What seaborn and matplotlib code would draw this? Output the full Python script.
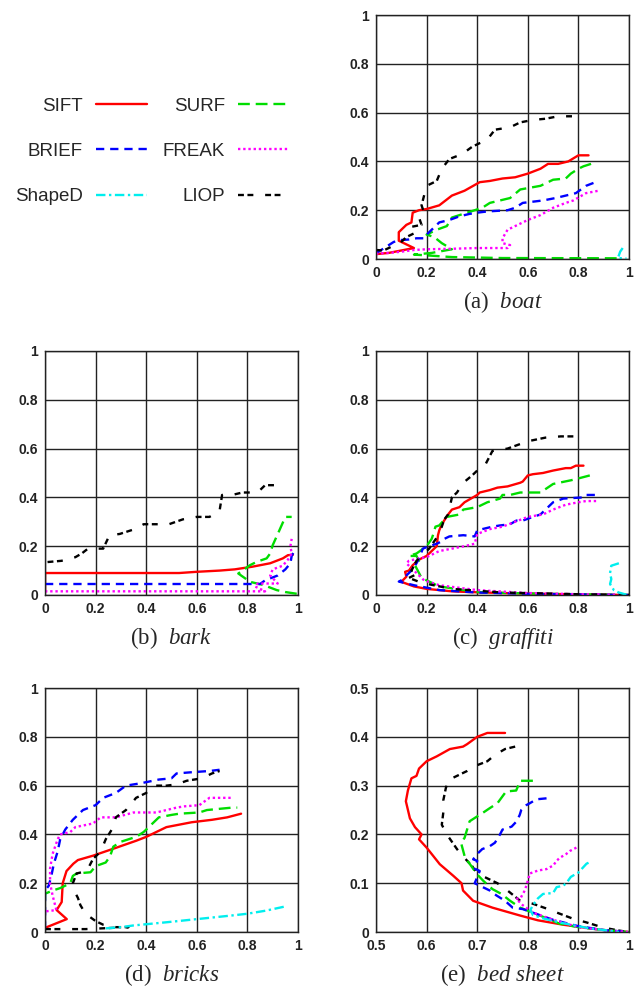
"""Precision/recall style curves for six descriptors on five image sets."""

import matplotlib.pyplot as plt
from matplotlib.lines import Line2D
import pandas as pd
import seaborn as sns

# descriptors, in the order used by the legend (column by column)
DESCRIPTORS = ["SIFT", "BRIEF", "ShapeD", "SURF", "FREAK", "LIOP"]

# (x values, y values)
boat = {
    "SIFT": ([0.0, 0.05, 0.1, 0.15, 0.13, 0.09, 0.09, 0.12, 0.14, 0.145, 0.17, 0.2, 0.25, 0.3, 0.35,
              0.41, 0.45, 0.5, 0.55, 0.6, 0.65, 0.68, 0.72, 0.76, 0.8, 0.84],
             [0.02, 0.025, 0.035, 0.045, 0.055, 0.075, 0.11, 0.14, 0.15, 0.19, 0.2, 0.205, 0.22, 0.26, 0.28,
              0.315, 0.32, 0.33, 0.335, 0.35, 0.37, 0.39, 0.39, 0.4, 0.425, 0.425]),
    "SURF": ([0.85, 0.82, 0.8, 0.77, 0.75, 0.7, 0.65, 0.57, 0.53, 0.45, 0.42, 0.36, 0.33, 0.3, 0.28, 0.24,
              0.2, 0.23, 0.26, 0.3, 0.22, 0.15, 0.2, 0.3, 0.5, 0.97],
             [0.39, 0.38, 0.37, 0.35, 0.33, 0.325, 0.3, 0.285, 0.25, 0.23, 0.21, 0.19, 0.18, 0.17, 0.135, 0.12,
              0.1, 0.09, 0.065, 0.04, 0.025, 0.018, 0.015, 0.008, 0.004, 0.003]),
    "BRIEF": ([0.0, 0.01, 0.04, 0.07, 0.1, 0.13, 0.16, 0.19, 0.2, 0.22, 0.25, 0.29, 0.33, 0.37, 0.4, 0.44,
               0.52, 0.55, 0.58, 0.62, 0.66, 0.71, 0.75, 0.79, 0.83, 0.88],
              [0.025, 0.03, 0.05, 0.07, 0.078, 0.08, 0.085, 0.085, 0.1, 0.12, 0.15, 0.16, 0.175, 0.185, 0.19,
               0.195, 0.2, 0.21, 0.23, 0.235, 0.24, 0.25, 0.26, 0.27, 0.3, 0.32]),
    "FREAK": ([0.0, 0.05, 0.1, 0.15, 0.2, 0.3, 0.4, 0.49, 0.52, 0.53, 0.5, 0.5, 0.52, 0.54, 0.6, 0.65, 0.7,
               0.75, 0.78, 0.83, 0.88],
              [0.022, 0.025, 0.03, 0.037, 0.04, 0.042, 0.045, 0.045, 0.045, 0.057, 0.065, 0.085, 0.12, 0.13,
               0.16, 0.18, 0.21, 0.23, 0.24, 0.27, 0.28]),
    "LIOP": ([0.0, 0.03, 0.06, 0.09, 0.12, 0.15, 0.13, 0.18, 0.17, 0.19, 0.18, 0.19, 0.2, 0.24, 0.26, 0.29,
              0.34, 0.38, 0.44, 0.47, 0.53, 0.57, 0.62, 0.67, 0.72, 0.78],
             [0.037, 0.035, 0.05, 0.06, 0.09, 0.105, 0.13, 0.14, 0.17, 0.19, 0.22, 0.26, 0.3, 0.32, 0.37, 0.41,
              0.43, 0.46, 0.49, 0.53, 0.54, 0.56, 0.57, 0.575, 0.585, 0.585]),
    "ShapeD": ([0.975, 0.965, 0.96, 0.955, 0.97, 0.99],
               [0.045, 0.03, 0.015, 0.005, 0.003, 0.002]),
}

bark = {
    "SIFT": ([0.0, 0.0, 0.2, 0.4, 0.53, 0.6, 0.69, 0.75, 0.82, 0.89, 0.94, 0.96, 0.98],
             [0.01, 0.09, 0.09, 0.09, 0.09, 0.095, 0.1, 0.105, 0.116, 0.13, 0.15, 0.163, 0.165]),
    "SURF": ([0.995, 0.95, 0.916, 0.863, 0.81, 0.79, 0.764, 0.784, 0.81, 0.837, 0.876, 0.89, 0.9, 0.92,
              0.935, 0.95, 0.975],
             [0.005, 0.012, 0.02, 0.041, 0.054, 0.069, 0.088, 0.102, 0.122, 0.136, 0.15, 0.17, 0.204, 0.25,
              0.285, 0.32, 0.32]),
    "BRIEF": ([0.0, 0.4, 0.85, 0.87, 0.92, 0.95, 0.97, 0.975, 0.985],
              [0.045, 0.045, 0.045, 0.06, 0.08, 0.105, 0.13, 0.16, 0.18]),
    "FREAK": ([0.0, 0.4, 0.87, 0.83, 0.84, 0.92, 0.89, 0.9, 0.94, 0.96, 0.975, 0.97, 0.975],
              [0.015, 0.015, 0.015, 0.035, 0.047, 0.047, 0.08, 0.105, 0.12, 0.145, 0.17, 0.2, 0.23]),
    "LIOP": ([0.01, 0.065, 0.12, 0.145, 0.17, 0.23, 0.255, 0.295, 0.355, 0.39, 0.45, 0.49, 0.545, 0.6,
              0.65, 0.69, 0.7, 0.74, 0.78, 0.84, 0.87, 0.92],
             [0.135, 0.14, 0.155, 0.17, 0.19, 0.19, 0.245, 0.25, 0.27, 0.29, 0.29, 0.29, 0.31, 0.32, 0.32,
              0.345, 0.41, 0.41, 0.42, 0.42, 0.45, 0.45]),
}

graffiti = {
    "SIFT": ([0.82, 0.79, 0.77, 0.75, 0.7, 0.66, 0.62, 0.6, 0.58, 0.57, 0.52, 0.48, 0.45, 0.41, 0.4, 0.35,
              0.33, 0.3, 0.285, 0.26, 0.25, 0.245, 0.24, 0.22, 0.2, 0.17, 0.145, 0.13, 0.115, 0.12, 0.1,
              0.15, 0.2, 0.3, 0.37, 0.5, 0.7, 0.85, 1.0],
             [0.53, 0.53, 0.52, 0.52, 0.51, 0.5, 0.495, 0.49, 0.465, 0.46, 0.445, 0.44, 0.43, 0.42, 0.41,
              0.38, 0.36, 0.35, 0.33, 0.29, 0.265, 0.245, 0.2, 0.18, 0.16, 0.145, 0.122, 0.1, 0.095, 0.075,
              0.054, 0.035, 0.025, 0.015, 0.012, 0.008, 0.004, 0.002, 0.0]),
    "SURF": ([0.845, 0.79, 0.77, 0.7, 0.65, 0.57, 0.53, 0.5, 0.49, 0.44, 0.4, 0.345, 0.33, 0.28, 0.25,
              0.235, 0.225, 0.22, 0.2, 0.16, 0.13, 0.16, 0.17, 0.155, 0.18, 0.25, 0.4, 0.6, 0.8, 1.0],
             [0.49, 0.475, 0.47, 0.455, 0.42, 0.42, 0.41, 0.41, 0.395, 0.38, 0.36, 0.35, 0.33, 0.32, 0.285,
              0.28, 0.245, 0.23, 0.2, 0.17, 0.16, 0.16, 0.14, 0.12, 0.07, 0.035, 0.012, 0.006, 0.003, 0.0]),
    "BRIEF": ([0.865, 0.83, 0.82, 0.74, 0.7, 0.67, 0.65, 0.62, 0.58, 0.555, 0.53, 0.49, 0.46, 0.4, 0.39,
               0.345, 0.29, 0.27, 0.26, 0.24, 0.21, 0.185, 0.17, 0.16, 0.14, 0.1, 0.09, 0.15, 0.25, 0.4,
               0.6, 0.8, 1.0],
              [0.41, 0.41, 0.4, 0.395, 0.38, 0.35, 0.33, 0.32, 0.305, 0.305, 0.29, 0.285, 0.28, 0.265, 0.24,
               0.245, 0.24, 0.23, 0.22, 0.21, 0.2, 0.19, 0.15, 0.13, 0.1, 0.06, 0.055, 0.04, 0.02, 0.01,
               0.005, 0.002, 0.0]),
    "FREAK": ([0.87, 0.83, 0.8, 0.75, 0.7, 0.66, 0.6, 0.55, 0.5, 0.45, 0.4, 0.39, 0.35, 0.3, 0.25, 0.2,
               0.17, 0.13, 0.12, 0.15, 0.19, 0.25, 0.4, 0.6, 0.8, 1.0],
              [0.385, 0.385, 0.38, 0.37, 0.35, 0.33, 0.32, 0.3, 0.28, 0.27, 0.25, 0.21, 0.2, 0.19, 0.18,
               0.155, 0.15, 0.14, 0.13, 0.1, 0.06, 0.04, 0.02, 0.008, 0.003, 0.0]),
    "LIOP": ([0.78, 0.73, 0.67, 0.6, 0.56, 0.52, 0.46, 0.43, 0.41, 0.38, 0.345, 0.32, 0.3, 0.285, 0.27,
              0.25, 0.23, 0.21, 0.19, 0.17, 0.16, 0.15, 0.14, 0.17, 0.13, 0.18, 0.3, 0.5, 0.8, 1.0],
             [0.65, 0.65, 0.645, 0.63, 0.615, 0.6, 0.59, 0.53, 0.52, 0.49, 0.46, 0.42, 0.4, 0.33, 0.31,
              0.25, 0.22, 0.19, 0.17, 0.15, 0.14, 0.12, 0.1, 0.09, 0.07, 0.05, 0.025, 0.01, 0.003, 0.0]),
    "ShapeD": ([0.96, 0.93, 0.925, 0.93, 0.925, 0.94, 0.96, 0.98, 1.0],
               [0.13, 0.12, 0.09, 0.065, 0.045, 0.02, 0.01, 0.004, 0.0]),
}

bricks = {
    "SIFT": ([0.007, 0.086, 0.046, 0.066, 0.07, 0.085, 0.112, 0.13, 0.19, 0.28, 0.36, 0.4, 0.48, 0.58,
              0.66, 0.72, 0.775],
             [0.02, 0.053, 0.09, 0.123, 0.2, 0.25, 0.28, 0.295, 0.313, 0.345, 0.374, 0.39, 0.43, 0.45, 0.46,
              0.47, 0.485]),
    "SURF": ([0.0, 0.0, 0.03, 0.06, 0.1, 0.11, 0.125, 0.18, 0.2, 0.24, 0.257, 0.27, 0.3, 0.36, 0.39, 0.45,
              0.5, 0.53, 0.61, 0.64, 0.74, 0.76],
             [0.13, 0.157, 0.17, 0.18, 0.2, 0.23, 0.24, 0.245, 0.27, 0.285, 0.31, 0.35, 0.37, 0.39, 0.41,
              0.47, 0.48, 0.485, 0.49, 0.5, 0.51, 0.51]),
    "BRIEF": ([0.0, 0.0, 0.015, 0.025, 0.035, 0.05, 0.06, 0.08, 0.11, 0.15, 0.2, 0.23, 0.28, 0.32, 0.38,
               0.45, 0.5, 0.52, 0.58, 0.65, 0.69],
              [0.01, 0.17, 0.19, 0.23, 0.28, 0.33, 0.38, 0.42, 0.46, 0.5, 0.52, 0.55, 0.57, 0.6, 0.61, 0.625,
               0.63, 0.65, 0.655, 0.66, 0.665]),
    "FREAK": ([0.005, 0.045, 0.03, 0.02, 0.02, 0.03, 0.05, 0.06, 0.1, 0.12, 0.19, 0.22, 0.28, 0.35, 0.44,
               0.48, 0.52, 0.55, 0.61, 0.65, 0.74],
              [0.085, 0.09, 0.15, 0.2, 0.26, 0.32, 0.38, 0.4, 0.41, 0.43, 0.445, 0.47, 0.47, 0.49, 0.49, 0.5,
               0.51, 0.515, 0.52, 0.55, 0.55]),
    "LIOP": ([0.0, 0.08, 0.16, 0.33, 0.28, 0.23, 0.2, 0.16, 0.14, 0.13, 0.115, 0.11, 0.125, 0.165, 0.19,
              0.22, 0.24, 0.27, 0.28, 0.32, 0.36, 0.4, 0.43, 0.48, 0.52, 0.56, 0.62, 0.66, 0.69],
             [0.012, 0.012, 0.012, 0.02, 0.02, 0.03, 0.045, 0.075, 0.11, 0.14, 0.17, 0.2, 0.24, 0.25, 0.3,
              0.33, 0.38, 0.43, 0.47, 0.5, 0.55, 0.57, 0.6, 0.6, 0.605, 0.62, 0.63, 0.65, 0.66]),
    "ShapeD": ([0.24, 0.3, 0.35, 0.48, 0.61, 0.74, 0.8, 0.875, 0.95],
               [0.015, 0.02, 0.027, 0.04, 0.054, 0.068, 0.075, 0.088, 0.105]),
}

bed_sheet = {
    "SIFT": ([0.755, 0.72, 0.7, 0.68, 0.672, 0.646, 0.62, 0.6, 0.585, 0.58, 0.57, 0.563, 0.559, 0.567,
              0.577, 0.59, 0.585, 0.6, 0.626, 0.653, 0.669, 0.672, 0.692, 0.73, 0.784, 0.82, 0.87, 0.92,
              0.96, 1.0],
             [0.408, 0.408, 0.4, 0.385, 0.38, 0.375, 0.36, 0.35, 0.335, 0.32, 0.315, 0.29, 0.268, 0.233,
              0.215, 0.2, 0.19, 0.173, 0.139, 0.115, 0.1, 0.085, 0.064, 0.05, 0.034, 0.024, 0.015, 0.008,
              0.003, 0.0]),
    "LIOP": ([0.775, 0.755, 0.735, 0.72, 0.695, 0.68, 0.65, 0.643, 0.638, 0.633, 0.633, 0.63, 0.64, 0.66,
              0.672, 0.69, 0.7, 0.72, 0.74, 0.76, 0.785, 0.81, 0.84, 0.857, 0.89, 0.915, 0.94, 0.955, 0.98,
              1.0],
             [0.38, 0.375, 0.363, 0.35, 0.34, 0.33, 0.315, 0.312, 0.295, 0.27, 0.245, 0.22, 0.2, 0.17,
              0.155, 0.135, 0.12, 0.11, 0.1, 0.085, 0.064, 0.058, 0.047, 0.04, 0.027, 0.02, 0.012, 0.008,
              0.003, 0.0]),
    "SURF": ([0.81, 0.785, 0.777, 0.757, 0.74, 0.725, 0.705, 0.7, 0.685, 0.68, 0.675, 0.668, 0.676, 0.685,
              0.7, 0.712, 0.73, 0.748, 0.765, 0.785, 0.84, 0.863, 0.9, 0.95, 1.0],
             [0.31, 0.31, 0.29, 0.288, 0.264, 0.254, 0.24, 0.237, 0.227, 0.21, 0.193, 0.183, 0.152, 0.14,
              0.118, 0.105, 0.088, 0.078, 0.064, 0.05, 0.027, 0.017, 0.01, 0.004, 0.0]),
    "BRIEF": ([0.837, 0.817, 0.804, 0.797, 0.787, 0.784, 0.778, 0.768, 0.75, 0.745, 0.735, 0.725, 0.71,
               0.7, 0.692, 0.7, 0.695, 0.705, 0.695, 0.725, 0.738, 0.755, 0.77, 0.79, 0.85, 0.9, 0.95, 1.0],
              [0.274, 0.272, 0.264, 0.26, 0.25, 0.24, 0.227, 0.216, 0.21, 0.2, 0.183, 0.176, 0.17, 0.16,
               0.149, 0.146, 0.13, 0.125, 0.1, 0.085, 0.075, 0.064, 0.05, 0.047, 0.025, 0.012, 0.004, 0.0]),
    "FREAK": ([0.896, 0.883, 0.876, 0.863, 0.857, 0.85, 0.844, 0.837, 0.82, 0.804, 0.8, 0.797, 0.794, 0.79,
               0.786, 0.777, 0.79, 0.81, 0.85, 0.9, 0.95, 1.0],
              [0.173, 0.166, 0.16, 0.152, 0.146, 0.136, 0.133, 0.129, 0.126, 0.12, 0.105, 0.095, 0.085,
               0.078, 0.07, 0.068, 0.055, 0.04, 0.025, 0.01, 0.004, 0.0]),
    "ShapeD": ([0.92, 0.916, 0.9, 0.885, 0.876, 0.87, 0.857, 0.85, 0.83, 0.82, 0.81, 0.805, 0.81, 0.83,
                0.87, 0.92, 0.96, 0.98],
               [0.142, 0.14, 0.122, 0.113, 0.1, 0.095, 0.092, 0.08, 0.078, 0.069, 0.055, 0.045, 0.035, 0.028,
                0.018, 0.008, 0.003, 0.0]),
}

# tick values and labels
TICKS_UNIT = [0, 0.2, 0.4, 0.6, 0.8, 1.0]
TICK_LABELS_UNIT = ["0", "0.2", "0.4", "0.6", "0.8", "1"]
TICKS_X_BED = [0.5, 0.6, 0.7, 0.8, 0.9, 1.0]
TICK_LABELS_X_BED = ["0.5", "0.6", "0.7", "0.8", "0.9", "1"]
TICKS_Y_BED = [0, 0.1, 0.2, 0.3, 0.4, 0.5]
TICK_LABELS_Y_BED = ["0", "0.1", "0.2", "0.3", "0.4", "0.5"]

# style of each descriptor
COLORS = {"SIFT": "#ff0000", "SURF": "#00dd00", "BRIEF": "#0000ff",
          "FREAK": "#ff00ff", "ShapeD": "#00eeee", "LIOP": "#000000"}
DASHES = {"SIFT": "", "SURF": (5, 2.5), "BRIEF": (3.5, 2.5), "FREAK": (1, 1.2),
          "ShapeD": (4, 1.5, 1, 1.5), "LIOP": (2.5, 1.5, 2.5, 5)}
LW = 1.7


def to_long(panel):
    """Turn a dict of (x, y) lists into a long table."""
    frames = []
    for name, (xs, ys) in panel.items():
        frames.append(pd.DataFrame({"x": xs, "y": ys, "desc": name}))
    return pd.concat(frames, ignore_index=True)


sns.set_style("white")
plt.rcParams["font.family"] = ["Liberation Sans", "DejaVu Sans"]
plt.rcParams["mathtext.fontset"] = "custom"
plt.rcParams["mathtext.it"] = "Liberation Serif:italic"
plt.rcParams["mathtext.rm"] = "Liberation Serif"

fig = plt.figure(figsize=(6.41, 9.89), dpi=100)

w, h = 0.3947, 0.2467
panels = [
    (boat, "a", "boat", [0.5866, 0.7381, w, h], "unit"),
    (bark, "b", "bark", [0.0702, 0.3984, w, h], "unit"),
    (graffiti, "c", "graffiti", [0.5866, 0.3984, w, h], "unit"),
    (bricks, "d", "bricks", [0.0702, 0.0576, w, h], "unit"),
    (bed_sheet, "e", "bed sheet", [0.5866, 0.0576, w, h], "bed"),
]

for panel, letter, name, rect, kind in panels:
    ax = fig.add_axes(rect)
    df = to_long(panel)
    sns.lineplot(data=df, x="x", y="y", hue="desc", style="desc",
                 palette=COLORS, dashes=DASHES, sort=False, estimator=None,
                 lw=LW, legend=False, ax=ax)

    if kind == "bed":
        ax.set_xlim(0.5, 1)
        ax.set_ylim(0, 0.5)
        ax.set_xticks(TICKS_X_BED, TICK_LABELS_X_BED)
        ax.set_yticks(TICKS_Y_BED, TICK_LABELS_Y_BED)
    else:
        ax.set_xlim(0, 1)
        ax.set_ylim(0, 1)
        ax.set_xticks(TICKS_UNIT, TICK_LABELS_UNIT)
        ax.set_yticks(TICKS_UNIT, TICK_LABELS_UNIT)

    ax.set_xlabel("")
    ax.set_ylabel("")
    ax.set_axisbelow(True)
    ax.grid(True, color="#222222", lw=1.0)
    ax.tick_params(length=0, labelsize=10, pad=5, colors="#222222")
    for lbl in ax.get_xticklabels() + ax.get_yticklabels():
        lbl.set_fontweight("bold")
    for spine in ax.spines.values():
        spine.set_color("#222222")
        spine.set_linewidth(1.0)

    caption = "({})  $\\mathit{{{}}}$".format(letter, name.replace(" ", "\\ "))
    ax.text(0.5, -0.175, caption, transform=ax.transAxes, ha="center", va="center",
            fontsize=16.5, family="Liberation Serif")

# legend in the empty top-left cell
handles = []
for d in DESCRIPTORS:
    hnd = Line2D([], [], color=COLORS[d], lw=LW)
    if DASHES[d]:
        hnd.set_dashes(DASHES[d])
    handles.append(hnd)
fig.legend(handles, DESCRIPTORS, ncol=2, markerfirst=False, frameon=False,
           loc="center", bbox_to_anchor=(0.237, 0.847), fontsize=13.5,
           handlelength=2.7, handletextpad=0.7, columnspacing=0.85, labelspacing=1.5)

fig.savefig("out.png", dpi=100)
plt.close()
